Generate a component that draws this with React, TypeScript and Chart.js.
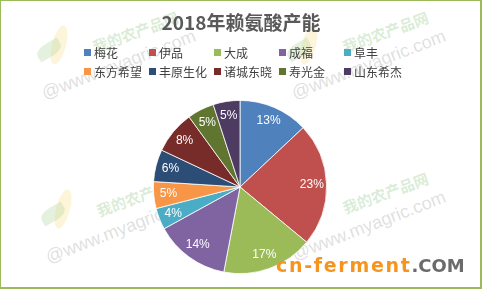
import React, { useEffect, useRef } from "react";
import { Chart, registerables } from "chart.js";

Chart.register(...registerables);

const titleText = "2018年赖氨酸产能";
const categories = ["梅花", "伊品", "大成", "成福", "阜丰", "东方希望", "丰原生化", "诸城东晓", "寿光金", "山东希杰"];
const shares = [13, 23, 17, 14, 4, 5, 6, 8, 5, 5];
const colors = ["#4F81BD", "#C0504D", "#9BBB59", "#8064A2", "#4BACC6", "#F79646", "#2C4D75", "#772C2A", "#5F7530", "#4D3B62"];

const watermarkSpots = [
  [46, 103],
  [296, 103],
  [50, 267],
  [296, 264],
];

const labelPlugin = {
  id: "sliceLabels",
  afterDatasetsDraw(chart: any) {
    const ctx = chart.ctx;
    const meta = chart.getDatasetMeta(0);
    const data = chart.data.datasets[0].data as number[];
    ctx.save();
    ctx.fillStyle = "#ffffff";
    ctx.font = "12px 'Liberation Sans', Arial, sans-serif";
    ctx.textAlign = "center";
    ctx.textBaseline = "middle";
    meta.data.forEach((arc: any, i: number) => {
      const p = arc.getProps(["x", "y", "startAngle", "endAngle", "outerRadius"], true);
      const mid = (p.startAngle + p.endAngle) / 2;
      const r = p.outerRadius * 0.83;
      ctx.fillText(data[i] + "%", p.x + Math.cos(mid) * r, p.y + Math.sin(mid) * r);
    });
    ctx.restore();
  },
};

export default function App() {
  const ref = useRef<HTMLCanvasElement | null>(null);
  useEffect(() => {
    if (!ref.current) return;
    const chart = new Chart(ref.current, {
      type: "pie",
      data: {
        labels: categories,
        datasets: [
          {
            data: shares,
            backgroundColor: colors,
            borderColor: "#ffffff",
            borderWidth: 0.8,
          },
        ],
      },
      options: {
        responsive: false,
        animation: false,
        layout: { padding: { top: 100, bottom: 16, left: 150, right: 152 } },
        plugins: {
          legend: { display: false },
          title: { display: false },
          tooltip: { enabled: false },
        },
      },
      plugins: [labelPlugin],
    });
    return () => chart.destroy();
  }, []);

  const cjk = "'Noto Sans CJK SC', 'Noto Sans', sans-serif";

  return (
    <div
      style={{
        position: "absolute",
        left: 0,
        top: 0,
        width: 482,
        height: 289,
        background: "#ffffff",
        overflow: "hidden",
        fontFamily: cjk,
      }}
    >
      {watermarkSpots.map(([x, y], i) => (
        <React.Fragment key={i}>
          <div
            style={{
              position: "absolute",
              left: x + 6,
              top: y - 78,
              width: 14,
              height: 40,
              borderRadius: "50%",
              background: "rgba(245,225,150,0.35)",
              transform: "rotate(15deg)",
            }}
          />
          <div
            style={{
              position: "absolute",
              left: x - 10,
              top: y - 60,
              width: 26,
              height: 14,
              borderRadius: "50% 0",
              background: "rgba(170,210,150,0.3)",
              transform: "rotate(-30deg)",
            }}
          />
          <div
            style={{
              position: "absolute",
              left: x,
              top: y - 19,
              fontSize: 18,
              lineHeight: "19px",
              color: "rgba(185,185,185,0.45)",
              fontFamily: "'Liberation Sans', Arial, sans-serif",
              transform: "rotate(-21deg)",
              transformOrigin: "0 100%",
              whiteSpace: "nowrap",
            }}
          >
            @www.myagric.com
          </div>
          <div
            style={{
              position: "absolute",
              left: x + 50,
              top: y - 48 - 16,
              fontSize: 15,
              lineHeight: "16px",
              color: "rgba(150,200,140,0.35)",
              transform: "rotate(-20deg)",
              transformOrigin: "0 100%",
              whiteSpace: "nowrap",
              fontWeight: "bold",
            }}
          >
            我的农产品网
          </div>
        </React.Fragment>
      ))}
      <canvas ref={ref} width={482} height={290} style={{ position: "absolute", left: 0, top: 0 }} />
      <div
        style={{
          position: "absolute",
          left: 0,
          top: 9,
          width: 482,
          textAlign: "center",
          fontSize: 19,
          lineHeight: "26px",
          fontWeight: "bold",
          color: "#595959",
        }}
      >
        {titleText}
      </div>
      <div
        style={{
          position: "absolute",
          left: 84,
          top: 43,
          display: "grid",
          gridTemplateColumns: "repeat(5, 65px)",
          gridAutoRows: "19px",
        }}
      >
        {categories.map((c, i) => (
          <div key={c} style={{ display: "flex", alignItems: "center", whiteSpace: "nowrap" }}>
            <span style={{ width: 7, height: 7, background: colors[i], marginRight: 3, flex: "none" }} />
            <span style={{ fontSize: 12, lineHeight: "19px", color: "#404040" }}>{c}</span>
          </div>
        ))}
      </div>
      <div
        style={{
          position: "absolute",
          left: 276,
          top: 253,
          whiteSpace: "nowrap",
          fontFamily: "'DejaVu Sans', sans-serif",
          fontWeight: "bold",
          lineHeight: "24px",
        }}
      >
        <span style={{ fontSize: 19, color: "#F7941D", letterSpacing: 1.7 }}>cn-ferment</span>
        <span style={{ fontSize: 18, color: "#6B6B6B" }}>.COM</span>
      </div>
      <div
        style={{
          position: "absolute",
          left: 0,
          top: 0,
          width: 479,
          height: 286,
          borderTop: "1px solid #9BBB59",
          borderLeft: "1px solid #9BBB59",
          borderRight: "2px solid #9BBB59",
          borderBottom: "2px solid #9BBB59",
        }}
      />
    </div>
  );
}
